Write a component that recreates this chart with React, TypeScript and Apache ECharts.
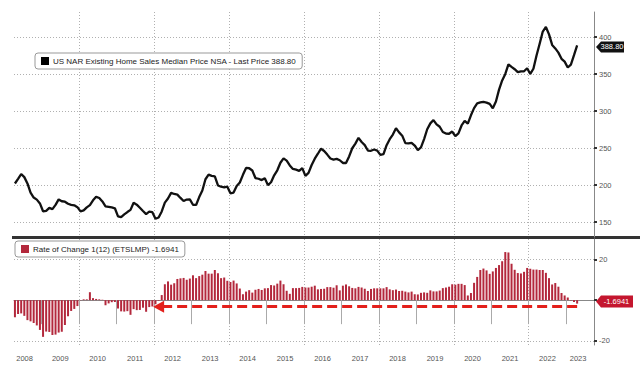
import React, { useEffect, useRef } from 'react';
import * as echarts from 'echarts';

// months counted from Jan 2008 (= 0); first observation is April 2008
const START_INDEX = 3;

// US NAR existing home sales median price NSA (thousand USD), Apr 2008 .. Apr 2023
const PRICE = [
  202.3, 208.6, 215.1, 210.9, 202.3, 189.9, 183.3, 180.5, 175.4,
  164.8, 165.4, 169.4, 167.7, 173.4, 180.8, 178.3, 177.7, 174.9, 173.5, 172.8, 170.3,
  164.7, 166.0, 170.1, 173.1, 179.5, 184.3, 182.7, 178.0, 171.5, 170.8, 170.0, 168.8,
  157.9, 156.9, 160.5, 163.7, 166.6, 176.2, 173.7, 169.5, 165.1, 161.0, 164.2, 163.5,
  154.7, 156.4, 164.5, 176.5, 182.0, 189.6, 188.1, 187.2, 182.8, 178.6, 180.6, 180.8,
  173.6, 173.3, 183.9, 192.8, 208.0, 214.2, 212.5, 212.0, 199.6, 197.9, 197.1, 198.0,
  189.0, 190.0, 199.0, 203.7, 214.0, 223.3, 222.9, 219.9, 209.7, 208.7, 206.9, 209.4,
  200.1, 204.0, 213.3, 220.1, 230.3, 236.3, 233.2, 226.7, 222.0, 221.1, 219.4, 223.0,
  212.6, 216.6, 227.3, 235.8, 242.5, 249.3, 246.2, 241.3, 236.1, 234.6, 235.5, 233.7,
  230.0, 230.0, 238.9, 249.9, 256.2, 264.0, 258.3, 254.2, 246.8, 246.5, 248.2, 246.8,
  241.0, 242.0, 254.0, 262.2, 268.4, 276.9, 271.3, 266.9, 256.9, 256.6, 257.3, 253.6,
  247.5, 251.0, 262.3, 275.6, 283.5, 288.0, 282.2, 279.0, 271.9, 269.7, 269.5, 272.5,
  266.3, 270.1, 280.7, 286.8, 283.2, 294.4, 304.1, 310.6, 311.8, 312.6, 311.6, 309.8,
  303.9, 313.0, 329.1, 341.6, 350.3, 363.3, 359.9, 356.7, 352.8, 353.9, 353.9, 358.0,
  350.3, 357.3, 375.3, 391.2, 407.6, 413.8, 403.8, 389.5, 384.8, 379.1, 370.7, 366.9,
  359.0, 363.0, 375.7, 388.8,
];

// Rate of change 1(12), %, Apr 2008 .. Apr 2023
const ROC = [
  -8.4, -6.8, -6.5, -7.7, -9.8, -10.4, -11.2, -12.4, -14.6,
  -18.0, -15.4, -15.6, -17.1, -16.9, -15.9, -15.5, -12.2, -7.9, -5.3, -4.3, -2.9,
  -0.1, 0.4, 0.4, 3.9, 1.0, 0.6, 0.4, 0.2, -2.5, -1.6, -1.0, -0.9,
  -4.1, -5.5, -5.6, -5.4, -7.2, -4.4, -4.9, -4.8, -3.7, -5.7, -3.4, -3.1,
  -2.0, -0.3, 2.5, 7.8, 9.2, 7.6, 8.3, 10.4, 10.7, 10.9, 10.0, 10.6,
  12.2, 10.8, 11.8, 12.5, 14.3, 13.0, 13.0, 14.8, 13.2, 10.8, 11.1, 9.5,
  8.9, 9.6, 8.2, 5.7, 2.9, 4.2, 4.9, 3.7, 5.1, 5.5, 5.0, 5.8,
  5.9, 7.4, 7.2, 8.1, 9.6, 7.8, 4.6, 3.1, 5.9, 5.9, 6.0, 6.5,
  6.2, 6.2, 6.6, 7.1, 5.3, 5.5, 5.6, 6.4, 6.4, 6.1, 7.3, 4.8,
  7.1, 7.7, 6.8, 6.0, 5.8, 6.5, 6.2, 5.6, 4.5, 5.5, 5.8, 5.8,
  5.8, 5.8, 6.4, 5.3, 4.9, 5.2, 4.5, 4.6, 4.2, 3.8, 4.2, 2.9,
  2.8, 3.6, 3.8, 3.6, 4.8, 4.3, 4.3, 4.7, 5.9, 6.2, 6.6, 7.8,
  7.6, 8.0, 8.0, 7.4, 2.3, 3.5, 8.5, 11.4, 14.8, 15.5, 14.6, 12.9,
  14.1, 15.8, 17.2, 19.1, 23.6, 23.4, 17.8, 14.9, 13.3, 13.1, 13.9, 15.8,
  15.4, 15.0, 15.0, 14.8, 14.8, 13.4, 10.8, 7.7, 8.4, 6.6, 3.5, 2.3,
  1.3, -0.2, -0.9, -1.7,
];

const YEAR_LABELS = ['2008', '2009', '2010', '2011', '2012', '2013', '2014', '2015', '2016', '2017', '2018', '2019', '2020', '2021', '2022', '2023'];
const PRICE_TICKS = [150, 200, 250, 300, 350, 400];
const ROC_LABEL_TICKS = [-20, 20];
const ROC_GRID_TICKS = [-20, 0, 20];

const PRICE_NAME = 'US NAR Existing Home Sales Median Price NSA - Last Price 388.80';
const ROC_NAME = 'Rate of Change 1(12) (ETSLMP) -1.6941';
const LAST_PRICE = 388.8;
const LAST_PRICE_TEXT = '388.80';
const LAST_ROC = -1.6941;
const LAST_ROC_TEXT = '-1.6941';

// annotation arrow (data space)
const ARROW_LEVEL = -3.2;
const ARROW_FROM = 183; // Apr 2023
const ARROW_TO = 49; // Feb 2012

const FONT = 'Liberation Sans, Arial, sans-serif';

export default function App() {
  const ref = useRef<HTMLDivElement>(null);

  useEffect(() => {
    const chart = echarts.init(ref.current!, null, { renderer: 'svg' });
    const xMin = 2.7;
    const xMax = 188.4;
    const priceData = PRICE.map((v, i) => [START_INDEX + i, v]);
    const rocData = ROC.map((v, i) => [START_INDEX + i, v]);
    const yearBounds = YEAR_LABELS.slice(1).map((_, i) => (i + 1) * 12 - 0.5);
    const twoYear = yearBounds.filter((_, i) => i % 2 === 1);
    const labelPos = YEAR_LABELS.map((_, i) =>
      i === 0 ? 6.1 : i === YEAR_LABELS.length - 1 ? 183.3 : i * 12 + 5.5
    );
    const yearFmt = (v: number) => {
      let best = 0;
      labelPos.forEach((p, i) => {
        if (Math.abs(p - v) < Math.abs(labelPos[best] - v)) best = i;
      });
      return YEAR_LABELS[best];
    };
    const dotted = { show: true, lineStyle: { color: '#b0b0b0', type: [1, 2] as any, width: 1 } };

    chart.setOption({
      animation: false,
      backgroundColor: '#fff',
      textStyle: { fontFamily: FONT },
      grid: [
        { left: 14, right: 46, top: 12, height: 225, outerBoundsMode: 'none' },
        { left: 14, right: 46, top: 239, height: 106, outerBoundsMode: 'none' },
      ],
      legend: [
        {
          data: [PRICE_NAME], left: 35, top: 53, selectedMode: false,
          backgroundColor: '#fff', borderColor: '#999', borderWidth: 1, borderRadius: 3,
          padding: [4, 6], itemWidth: 8, itemHeight: 8, icon: 'rect',
          textStyle: { fontSize: 8, color: '#222', fontFamily: FONT, padding: [0, 0, 0, -1] },
        },
        {
          data: [ROC_NAME], left: 15, top: 241, selectedMode: false,
          backgroundColor: '#fff', borderColor: '#999', borderWidth: 1, borderRadius: 3,
          padding: [4, 6], itemWidth: 8, itemHeight: 8, icon: 'rect',
          textStyle: { fontSize: 8, color: '#222', fontFamily: FONT, padding: [0, 0, 0, -1] },
        },
      ],
      xAxis: [
        {
          type: 'value', gridIndex: 0, min: xMin, max: xMax, position: 'bottom',
          axisLine: { show: false }, axisLabel: { show: false },
          axisTick: { show: false, customValues: twoYear },
          splitLine: dotted,
        },
        {
          type: 'value', gridIndex: 1, min: xMin, max: xMax, position: 'bottom',
          axisLine: { show: true, lineStyle: { color: '#888', width: 1 } },
          axisTick: { show: true, customValues: yearBounds, length: 24, lineStyle: { color: '#aaa' } },
          axisLabel: { show: true, customValues: labelPos, formatter: yearFmt, fontSize: 7.5, color: '#555', margin: 9, hideOverlap: false },
          splitLine: { show: false },
        },
        {
          type: 'value', gridIndex: 1, min: xMin, max: xMax, position: 'top',
          axisLine: { show: false }, axisLabel: { show: false },
          axisTick: { show: false, customValues: twoYear },
          splitLine: dotted,
        },
      ],
      yAxis: [
        {
          type: 'value', gridIndex: 0, position: 'right', min: 130, max: 434,
          axisLine: { show: true, lineStyle: { color: '#888', width: 1 } },
          axisTick: { show: true, customValues: PRICE_TICKS, length: 3, lineStyle: { color: '#333', width: 2 } },
          axisLabel: { show: true, customValues: PRICE_TICKS, fontSize: 7.5, color: '#555', margin: 5, padding: [0, 0, 1, 0] },
          splitLine: dotted,
        },
        {
          type: 'value', gridIndex: 1, position: 'right', min: -22, max: 30,
          axisLine: { show: true, lineStyle: { color: '#888', width: 1 } },
          axisTick: { show: true, customValues: ROC_GRID_TICKS, length: 3, lineStyle: { color: '#333', width: 2 } },
          axisLabel: { show: true, customValues: ROC_LABEL_TICKS, fontSize: 7.5, color: '#555', margin: 5 },
          splitLine: dotted,
        },
      ],
      series: [
        {
          name: PRICE_NAME, type: 'line', xAxisIndex: 0, yAxisIndex: 0,
          data: priceData, showSymbol: false, symbol: 'none',
          color: '#000',
          lineStyle: { color: '#111', width: 2.3 },
        },
        {
          name: ROC_NAME, type: 'bar', xAxisIndex: 1, yAxisIndex: 1,
          data: rocData, barWidth: 2, color: '#b3283c',
          itemStyle: { color: '#b3283c' },
          markLine: {
            silent: true, animation: false,
            symbol: ['none', 'triangle'], symbolSize: [12, 11],
            label: { show: false },
            lineStyle: { color: '#e3201b', type: [10, 5] as any, width: 3, opacity: 1 },
            emphasis: { disabled: true },
            data: [[{ coord: [ARROW_FROM, ARROW_LEVEL] }, { coord: [ARROW_TO, ARROW_LEVEL] }]],
          },
        },
      ],
    });

    const xRight = chart.convertToPixel({ xAxisIndex: 0 }, xMax) as number;
    const yPrice = chart.convertToPixel({ yAxisIndex: 0 }, LAST_PRICE) as number;
    const yRoc = chart.convertToPixel({ yAxisIndex: 1 }, LAST_ROC) as number;
    const sepY = 237.5;

    const tag = (x: number, y: number, w: number, h: number, fill: string, text: string) => ({
      type: 'group',
      children: [
        {
          type: 'polygon',
          shape: { points: [[x, y], [x + 5, y - h / 2], [x + w, y - h / 2], [x + w, y + h / 2], [x + 5, y + h / 2]] },
          style: { fill },
        },
        {
          type: 'text', x: x + 4 + (w - 4) / 2, y,
          style: { text, fill: '#fff', fontSize: 7.5, fontFamily: FONT, align: 'center', verticalAlign: 'middle' },
        },
      ],
    });

    chart.setOption({
      graphic: [
        { type: 'line', shape: { x1: 12, y1: sepY, x2: 640, y2: sepY }, style: { stroke: '#333', lineWidth: 3 } },
        tag(xRight + 2, yPrice + 1.5, 28, 11, '#111', LAST_PRICE_TEXT),
        tag(xRight + 2, yRoc - 2, 37, 12, '#c4162e', LAST_ROC_TEXT),
      ],
    });

    return () => chart.dispose();
  }, []);

  return <div ref={ref} style={{ position: 'fixed', left: 0, top: 0, width: 640, height: 382 }} />;
}
